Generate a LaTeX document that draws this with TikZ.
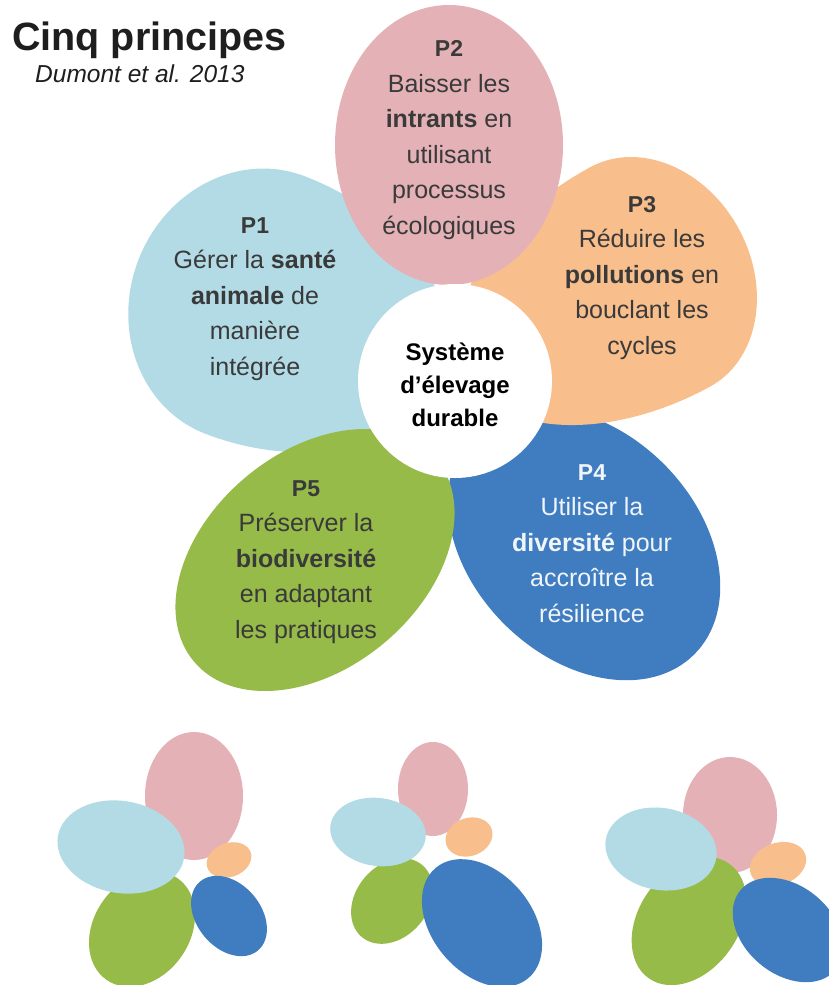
\documentclass[tikz,border=0pt]{standalone}
\usepackage{fontspec}
\setmainfont{Liberation Sans}
\definecolor{petalpink}{RGB}{228,178,182}
\definecolor{petalsky}{RGB}{178,219,229}
\definecolor{petalorange}{RGB}{248,190,140}
\definecolor{petalblue}{RGB}{64,124,192}
\definecolor{petalgreen}{RGB}{150,187,72}
\definecolor{textgrey}{RGB}{58,58,58}
\definecolor{titlegrey}{RGB}{30,30,30}
% font of the P1..P5 labels
\newcommand\plabelfont{\fontsize{23}{35.5}\selectfont\bfseries}
% egg-shaped petal: colour, centre x, centre y (downwards), direction,
% outer half-length, inner half-length, half-width
\newcommand\eggpetal[7]{%
  \fill[#1, shift={(#2,-#3)}, rotate=#4]
    (#5,0) arc[start angle=0, end angle=90, x radius=#5, y radius=#7]
           arc[start angle=90, end angle=270, x radius=#6, y radius=#7]
           arc[start angle=270, end angle=360, x radius=#5, y radius=#7] -- cycle;}
% plain rotated ellipse: colour, centre x, centre y (downwards), angle, rx, ry
\newcommand\blob[6]{%
  \fill[#1, rotate around={#4:(#2,-#3)}] (#2,-#3) ellipse [x radius=#5, y radius=#6];}
\begin{document}
\begin{tikzpicture}[x=1pt, y=1pt,
  % texts are placed by the baseline of their last line
  petaltext/.style={anchor=base, inner sep=0pt, align=center, text=textgrey,
    font=\fontsize{25}{35.5}\selectfont}]
\useasboundingbox (0,0) rectangle (828,-985);
\fill[white] (0,0) rectangle (828,-985);

% title
\node[anchor=base west, inner sep=0pt, text=titlegrey,
      font=\fontsize{39.5}{42}\selectfont\bfseries] (title) at (12,-50) {Cinq principes};
\node[anchor=base west, inner sep=0pt, text=titlegrey,
      font=\fontsize{24.5}{28}\selectfont\itshape] (source) at (35,-82) {Dumont et al. 2013};

% main flower petals
\eggpetal{petalsky}{255}{305}{159.2}{125}{200}{138}
\eggpetal{petalblue}{584}{544}{-45}{156}{156}{113}
\eggpetal{petalorange}{650}{277}{28.5}{101}{208}{125}
\eggpetal{petalgreen}{315}{560}{220}{158}{158}{108}
\eggpetal{petalpink}{449}{145}{90}{140}{140}{114}
\node[circle, fill=white, inner sep=0pt, minimum size=194pt] (core) at (455,-381) {};

% petal texts
\node[petaltext] (p1) at (255,-375)
  {{\plabelfont P1}\\Gérer la \textbf{santé}\\\textbf{animale} de\\manière\\intégrée};
\node[petaltext] (p2) at (449,-234)
  {{\plabelfont P2}\\Baisser les\\\textbf{intrants} en\\utilisant\\processus\\écologiques};
\node[petaltext] (p3) at (642,-354)
  {{\plabelfont P3}\\Réduire les\\\textbf{pollutions} en\\bouclant les\\cycles};
\node[petaltext, text=white!92!petalblue] (p4) at (592,-622)
  {{\plabelfont P4}\\Utiliser la\\\textbf{diversité} pour\\accroître la\\résilience};
\node[petaltext] (p5) at (306,-638)
  {{\plabelfont P5}\\Préserver la\\\textbf{biodiversité}\\en adaptant\\les pratiques};
\node[anchor=base, inner sep=0pt, align=center, text=black,
      font=\fontsize{24}{33}\selectfont\bfseries] (coretext) at (455,-426)
  {Système\\d'élevage\\durable};

% three small flowers
\blob{petalpink}{194}{796}{0}{49}{64}
\blob{petalgreen}{142}{929}{55}{62}{48}
\blob{petalsky}{121}{847}{-10}{64}{46}
\blob{petalorange}{229}{860}{20}{23}{17}
\blob{petalblue}{229}{916}{-50}{45}{32}

\blob{petalpink}{433}{789}{0}{35}{47}
\blob{petalgreen}{392}{901}{50}{47}{36}
\blob{petalsky}{378}{832}{-8}{48}{34}
\blob{petalorange}{469}{837}{20}{24}{19}
\blob{petalblue}{482}{923}{-50}{72}{50}

\blob{petalpink}{730}{815}{0}{47}{58}
\blob{petalgreen}{689}{921}{55}{70}{50}
\blob{petalsky}{661}{849}{-10}{56}{41}
\blob{petalorange}{778}{864}{20}{29}{21}
\blob{petalblue}{788}{930}{-40}{62}{44}
\end{tikzpicture}
\end{document}
